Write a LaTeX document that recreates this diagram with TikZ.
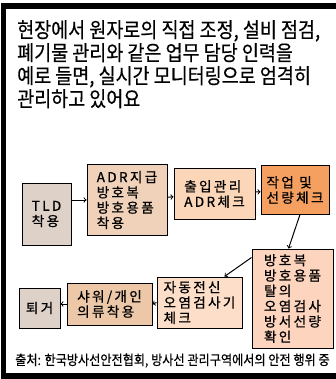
\documentclass[tikz,border=0pt]{standalone}
\usepackage{fontspec}
\setmainfont{Noto Sans CJK KR}
\newfontfamily\titlefont[FakeStretch=0.88,FakeBold=0.4]{Noto Sans CJK KR}
\newfontfamily\boxfont[LetterSpace=17,FakeBold=0.8]{Noto Sans CJK KR}

\begin{document}
\begin{tikzpicture}[x=1pt,y=-1pt,
    procedure/.style ={draw, line width=1pt, align=left, inner sep=0pt,
      font=\boxfont\fontsize{13.6}{15.3}\selectfont}]
   \useasboundingbox (0,0) rectangle (336,379);
   \clip (0,0) rectangle (336,379);
   \draw[line width=5.5pt] (3.5,5.8) rectangle (360,376);

   \node[anchor=north west, inner sep=0pt, align=left,
     font=\titlefont\fontsize{21}{23}\selectfont] (title) at (17,20)
     {현장에서 원자로의 직접 조정, 설비 점검,\\
      폐기물 관리와 같은 업무 담당 인력을\\
      예로 들면, 실시간 모니터링으로 엄격히\\
      관리하고 있어요};

   \node[procedure, fill={rgb,255:red,221;green,209;blue,200}, minimum width=49, minimum height=62] (t) at (46.5,214) {TLD\\착용};
   \node[procedure, fill={rgb,255:red,240;green,210;blue,186}, minimum width=80, minimum height=70] (a) at (127,200) {ADR지급\\방호복\\방호용품\\착용};
   \node[procedure, fill={rgb,255:red,252;green,214;blue,184}, minimum width=81, minimum height=50] (b) at (214.5,194) {출입관리\\ADR체크};
   \node[procedure, fill={rgb,255:red,245;green,160;blue,96}, minimum width=68, minimum height=48] (c) at (295,190) {작업 및\\선량체크};
   \node[procedure, fill={rgb,255:red,253;green,213;blue,190}, minimum width=81, minimum height=99] (d) at (292.5,298.5) {방호복\\방호용품\\탈의\\오염검사\\방서선량\\확인};
   \node[procedure, fill={rgb,255:red,253;green,222;blue,200}, minimum width=85, minimum height=51] (e) at (199.5,302.5) {자동전신\\오염검사기\\체크};
   \node[procedure, fill={rgb,255:red,236;green,200;blue,168}, minimum width=85, minimum height=42] (f) at (109.5,304) {샤워/개인\\의류착용};
   \node[procedure, fill={rgb,255:red,221;green,209;blue,200}, minimum width=41, minimum height=40] (g) at (39.5,308) {퇴거};

   \draw[line width=1pt,->] (t.east |- a.west) to (a.west);
   \draw[line width=1pt,->] (a) to (b);
   \draw[line width=1pt,->] (b) to (c);
   \draw[line width=1pt,->] ([xshift=5pt]c.south) to ([xshift=-4pt]d.north);
   \draw[line width=1pt,->] ([yshift=-9pt]d.north west) to ([xshift=-18pt]e.north east);
   \draw[line width=1pt,->] (e.west) to (f.east);
   \draw[line width=1pt,->] (f.west) to (f.west -| g.east);

   \node[anchor=base west, inner sep=0pt, font=\titlefont\fontsize{13.8}{15}\selectfont] (source) at (15,365)
     {출처: 한국방사선안전협회, 방사선 관리구역에서의 안전 행위 중};
 \end{tikzpicture}
\end{document}
